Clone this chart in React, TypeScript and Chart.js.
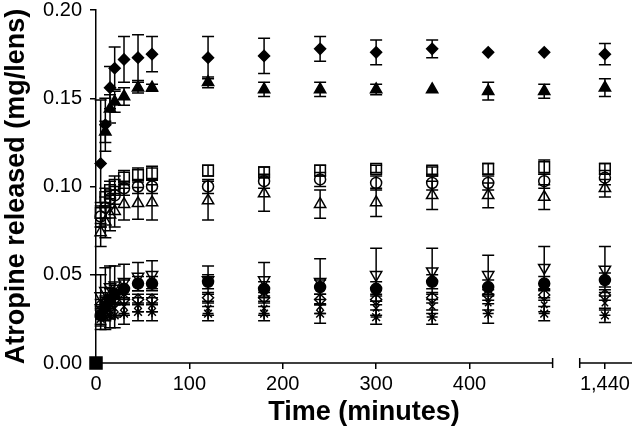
import React, { useEffect, useRef } from 'react';
import { Chart, registerables, LinearScale } from 'chart.js';

Chart.register(...registerables);

// ---- data ----
const times = [5, 10, 15, 20, 30, 45, 60, 120, 180, 240, 300, 360, 420, 480, 1440];
const xTickValues = [0, 100, 200, 300, 400, 1440];
const yTickValues = [0, 0.05, 0.1, 0.15, 0.2];

const diamondFilled = [0.113, 0.135, 0.156, 0.167, 0.172, 0.173, 0.175, 0.173, 0.174, 0.178, 0.176, 0.178, 0.176, 0.176, 0.175];
const diamondFilledErr = [0.036, 0.015, 0.012, 0.012, 0.013, 0.013, 0.010, 0.012, 0.010, 0.007, 0.007, 0.005, 0, 0, 0.006];

const triangleFilled = [null, 0.131, 0.144, 0.148, 0.151, 0.156, 0.156, 0.159, 0.155, 0.155, 0.155, 0.155, 0.154, 0.154, 0.156];
const triangleFilledErr = [0, 0.006, 0.008, 0.006, 0.005, 0.003, 0.002, 0.003, 0.004, 0.004, 0.003, 0, 0.005, 0.004, 0.005];

const squareOpen = [0.085, 0.094, 0.098, 0.101, 0.105, 0.1065, 0.1075, 0.109, 0.108, 0.109, 0.110, 0.109, 0.110, 0.111, 0.110];
const squareOpenErr = [0.006, 0.005, 0.005, 0.005, 0.004, 0.004, 0.004, 0.003, 0.003, 0.003, 0.002, 0.002, 0.003, 0.004, 0.003];

const circleOpen = [0.083, 0.088, 0.093, 0.095, 0.099, 0.100, 0.100, 0.100, 0.103, 0.104, 0.102, 0.102, 0.102, 0.103, 0.105];
const circleOpenErr = [0.006, 0.006, 0.005, 0.005, 0.004, 0.004, 0.004, 0.004, 0.004, 0.004, 0.004, 0.004, 0.004, 0.004, 0.004];

const triangleOpen = [0.074, 0.080, 0.084, 0.086, 0.090, 0.0905, 0.091, 0.092, 0.096, 0.090, 0.091, 0.095, 0.095, 0.094, 0.099];
const triangleOpenErr = [0.008, 0.009, 0.009, 0.009, 0.009, 0.009, 0.010, 0.011, 0.010, 0.008, 0.008, 0.008, 0.007, 0.007, 0.005];

const triangleDown = [0.038, 0.041, 0.043, 0.044, 0.046, 0.049, 0.050, 0.047, 0.047, 0.046, 0.050, 0.052, 0.050, 0.054, 0.053];
const triangleDownErr = [0.012, 0.013, 0.012, 0.011, 0.010, 0.008, 0.008, 0.008, 0.010, 0.013, 0.015, 0.013, 0.011, 0.012, 0.013];

const circleFilled = [0.027, 0.032, 0.036, 0.039, 0.042, 0.045, 0.045, 0.046, 0.042, 0.043, 0.042, 0.046, 0.043, 0.045, 0.047];
const circleFilledErr = [0.006, 0.006, 0.006, 0.005, 0.005, 0.004, 0.004, 0.004, 0.004, 0.004, 0.004, 0.004, 0.004, 0.004, 0.004];

const diamondOpen = [0.033, 0.034, 0.035, 0.036, 0.036, 0.036, 0.036, 0.037, 0.037, 0.036, 0.036, 0.037, 0.0385, 0.0385, 0.0385];
const diamondOpenErr = [0.003, 0.003, 0.003, 0.003, 0.003, 0.003, 0.003, 0.003, 0.003, 0.003, 0.003, 0.003, 0.003, 0.003, 0.003];

const crossOpen = [0.027, 0.029, 0.030, 0.031, 0.032, 0.033, 0.033, 0.031, 0.031, 0.032, 0.031, 0.032, 0.034, 0.033, 0.034];
const crossOpenErr = [0.005, 0.005, 0.005, 0.005, 0.005, 0.004, 0.004, 0.004, 0.004, 0.004, 0.004, 0.004, 0.004, 0.004, 0.004];

const starOpen = [0.025, 0.026, 0.027, 0.027, 0.028, 0.029, 0.029, 0.028, 0.028, 0.028, 0.026, 0.026, 0.028, 0.028, 0.027];
const starOpenErr = [0.006, 0.007, 0.007, 0.007, 0.006, 0.005, 0.005, 0.004, 0.004, 0.0055, 0.004, 0.004, 0.0055, 0.004, 0.004];

const originTimes = [0];
const originValues = [0];

// ---- broken x axis ----
const SEG1_END = 489;
const SEG2_START = 1413;
const GAP = 29;
const X_MAX = 1469;

const toAxis = (v: number) => {
  if (v <= SEG1_END) return v;
  if (v >= SEG2_START) return SEG1_END + GAP + (v - SEG2_START);
  return SEG1_END + ((v - SEG1_END) * GAP) / (SEG2_START - SEG1_END);
};

class BrokenLinearScale extends LinearScale {
  getPixelForValue(value: any) {
    if (value === null || value === undefined || isNaN(value)) return NaN;
    const a0 = toAxis(this.min);
    const a1 = toAxis(this.max);
    return this.getPixelForDecimal((toAxis(value) - a0) / (a1 - a0));
  }
}
(BrokenLinearScale as any).id = 'brokenLinear';
(BrokenLinearScale as any).defaults = (LinearScale as any).defaults;
Chart.register(BrokenLinearScale as any);

const FONT = '"Liberation Sans", Arial, Helvetica, sans-serif';

const axisPlugin = {
  id: 'brokenAxis',
  beforeDatasetsDraw(chart: any) {
    const { ctx } = chart;
    const xs = chart.scales.x;
    const y = xs.top;
    const p0 = xs.getPixelForValue(0);
    const p1 = xs.getPixelForValue(SEG1_END);
    const p2 = xs.getPixelForValue(SEG2_START);
    const p3 = xs.right;
    ctx.save();
    ctx.strokeStyle = '#000';
    ctx.lineWidth = 1.5;
    ctx.beginPath();
    ctx.moveTo(p0, y);
    ctx.lineTo(p1, y);
    ctx.moveTo(p2, y);
    ctx.lineTo(p3, y);
    ctx.moveTo(p1, y - 5);
    ctx.lineTo(p1, y + 5);
    ctx.moveTo(p2, y - 5);
    ctx.lineTo(p2, y + 5);
    ctx.stroke();
    ctx.restore();
  },
};

const errorBarPlugin = {
  id: 'errorBars',
  beforeDatasetsDraw(chart: any) {
    const { ctx } = chart;
    const xs = chart.scales.x;
    const ys = chart.scales.y;
    ctx.save();
    ctx.strokeStyle = '#000';
    ctx.lineWidth = 1.5;
    chart.data.datasets.forEach((ds: any) => {
      const errs = ds.errors;
      if (!errs) return;
      ds.data.forEach((pt: any, i: number) => {
        const e = errs[i];
        if (pt.y === null || !e) return;
        const px = xs.getPixelForValue(pt.x);
        const yTop = ys.getPixelForValue(pt.y + e);
        const yBot = ys.getPixelForValue(pt.y - e);
        const hw = 6;
        ctx.beginPath();
        ctx.moveTo(px, yTop);
        ctx.lineTo(px, yBot);
        ctx.moveTo(px - hw, yTop);
        ctx.lineTo(px + hw, yTop);
        ctx.moveTo(px - hw, yBot);
        ctx.lineTo(px + hw, yBot);
        ctx.stroke();
      });
    });
    ctx.restore();
  },
};

const makeSeries = (
  label: string,
  values: (number | null)[],
  errors: number[],
  style: string,
  radius: number,
  filled: boolean,
  rotation = 0,
  xs: number[] = times
) => ({
  label,
  data: xs.map((t, i) => ({ x: t, y: values[i] })),
  errors,
  pointStyle: style,
  pointRadius: radius,
  pointRotation: rotation,
  pointBorderColor: '#000',
  pointBackgroundColor: filled ? '#000' : 'rgba(0,0,0,0)',
  pointBorderWidth: 1.5,
  borderColor: '#000',
  backgroundColor: filled ? '#000' : 'rgba(0,0,0,0)',
  showLine: false,
  clip: false,
});

export default function App() {
  const ref = useRef<HTMLCanvasElement | null>(null);

  useEffect(() => {
    if (!ref.current) return;
    const chart = new Chart(ref.current, {
      type: 'scatter',
      data: {
        datasets: [
          makeSeries('origin', originValues, [0], 'rect', 8.5, true, 0, originTimes),
          makeSeries('A', diamondFilled, diamondFilledErr, 'rectRot', 5.5, true),
          makeSeries('B', triangleFilled, triangleFilledErr, 'triangle', 6.5, true),
          makeSeries('C', squareOpen, squareOpenErr, 'rect', 7.5, false),
          makeSeries('D', circleOpen, circleOpenErr, 'circle', 5.5, false),
          makeSeries('E', triangleOpen, triangleOpenErr, 'triangle', 6.5, false),
          makeSeries('F', triangleDown, triangleDownErr, 'triangle', 6.5, false, 180),
          makeSeries('G', circleFilled, circleFilledErr, 'circle', 5.5, true),
          makeSeries('H', diamondOpen, diamondOpenErr, 'rectRot', 5.5, false),
          makeSeries('I', crossOpen, crossOpenErr, 'crossRot', 4.5, false),
          makeSeries('J', starOpen, starOpenErr, 'star', 5.5, false),
        ] as any,
      },
      options: {
        animation: false,
        responsive: false,
        events: [],
        layout: { autoPadding: false, padding: { top: 10, right: 0, left: 0, bottom: 0 } },
        plugins: {
          legend: { display: false },
          tooltip: { enabled: false },
        },
        scales: {
          x: {
            type: 'brokenLinear' as any,
            min: 0,
            max: X_MAX,
            afterBuildTicks: (s: any) => {
              s.ticks = xTickValues.map((v) => ({ value: v }));
            },
            afterFit: (s: any) => {
              s.height = 78;
              s.paddingLeft = 0;
              s.paddingRight = 0;
            },
            grid: {
              display: true,
              drawOnChartArea: false,
              drawTicks: true,
              tickLength: 6,
              color: '#000',
              lineWidth: 1.5,
            },
            border: { display: false },
            ticks: {
              autoSkip: false,
              maxRotation: 0,
              padding: 3,
              color: '#000',
              font: { family: FONT, size: 20 },
              callback: (v: any) => Number(v).toLocaleString('en-US'),
            },
            title: {
              display: true,
              text: 'Time (minutes)',
              color: '#000',
              font: { family: FONT, size: 27, weight: 'bold' },
              padding: { top: 0, bottom: 12 },
            },
          } as any,
          y: {
            min: 0,
            max: 0.2,
            afterBuildTicks: (s: any) => {
              s.ticks = yTickValues.map((v) => ({ value: v }));
            },
            afterFit: (s: any) => {
              s.width = 96;
              s.paddingTop = 0;
              s.paddingBottom = 0;
            },
            grid: {
              display: true,
              drawOnChartArea: false,
              drawTicks: true,
              tickLength: 6,
              color: '#000',
              lineWidth: 1.5,
            },
            border: { display: true, color: '#000', width: 1.5 },
            ticks: {
              padding: 8,
              color: '#000',
              font: { family: FONT, size: 20 },
              callback: (v: any) => Number(v).toFixed(2),
            },
            title: {
              display: true,
              text: 'Atropine released (mg/lens)',
              color: '#000',
              font: { family: FONT, size: 27, weight: 'bold' },
              padding: 0,
            },
          },
        },
      },
      plugins: [axisPlugin, errorBarPlugin],
    });
    return () => chart.destroy();
  }, []);

  return (
    <div style={{ position: 'absolute', left: 0, top: 0, width: 632, height: 441, background: '#fff' }}>
      <canvas ref={ref} width={632} height={441} style={{ display: 'block' }} />
    </div>
  );
}
